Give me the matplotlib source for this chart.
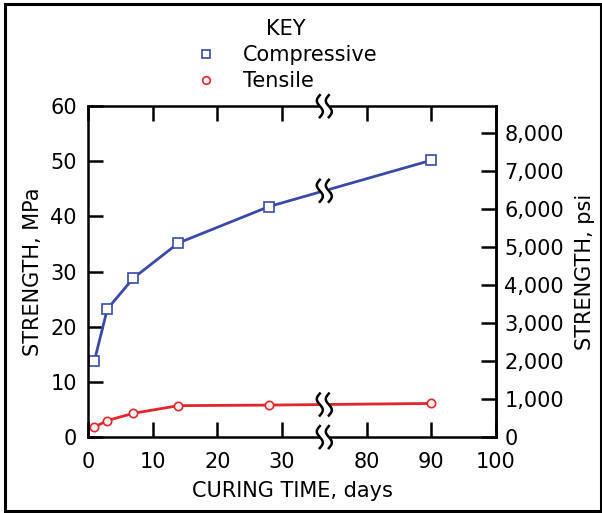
import numpy as np
import matplotlib.pyplot as plt
from matplotlib.lines import Line2D
from matplotlib.patches import Polygon
from matplotlib.transforms import IdentityTransform

plt.rcParams['font.family'] = ['DejaVu Sans']

# Data
days = [1, 3, 7, 14, 28, 90]
compressive = [13.8, 23.2, 28.8, 35.2, 41.8, 50.2]
tensile = [1.8, 3.0, 4.3, 5.7, 5.8, 6.1]
x_ticks = [0, 10, 20, 30, 80, 90, 100]
psi_ticks = [0, 1000, 2000, 3000, 4000, 5000, 6000, 7000, 8000]

BLUE = "#3b4aa8"
RED = "#e3262b"
MPA_TO_PSI = 145.038

# broken x axis: 0..36.5 kept, 36.5..73.5 squeezed, after that shifted
A, B, SHIFT = 36.5, 73.5, 36.9

def fwd(x):
    x = np.asarray(x, dtype=float)
    mid = A + (x - A) * ((B - SHIFT) - A) / (B - A)
    return np.where(x <= A, x, np.where(x >= B, x - SHIFT, mid))

def inv(u):
    u = np.asarray(u, dtype=float)
    mid = A + (u - A) * (B - A) / ((B - SHIFT) - A)
    return np.where(u <= A, u, np.where(u >= B - SHIFT, u + SHIFT, mid))

def break_mark(fig, px, py, h=22, gap=9, amp=3):
    # two wavy strokes with a white gap, in display pixels
    t = np.linspace(-0.5, 0.5, 40)
    ys = py + t * h
    fig.add_artist(Polygon([[px - gap / 2, py - 4], [px + gap / 2, py - 4],
                            [px + gap / 2, py + 4], [px - gap / 2, py + 4]],
                           closed=True, facecolor="white", edgecolor="none",
                           transform=IdentityTransform(), zorder=10))
    for dx in (-gap / 2, gap / 2):
        xs = px + dx - amp * np.sin(2 * np.pi * t)
        fig.add_artist(Line2D(xs, ys, color="black", lw=1.8,
                              transform=IdentityTransform(), zorder=11))

def main():
    fig = plt.figure(figsize=(6.02, 5.13), dpi=100)
    ax = fig.add_axes([0.146, 0.148, 0.678, 0.645])
    ax.set_xscale('function', functions=(fwd, inv))
    ax.set_xlim(0, 100)
    ax.set_ylim(0, 60)

    ax.plot(days, compressive, color=BLUE, lw=2, marker='s', ms=7,
            mfc='white', mec=BLUE, mew=1.2, label='Compressive')
    ax.plot(days, tensile, color=RED, lw=2, marker='o', ms=6,
            mfc='#f2f2f2', mec=RED, mew=1.2, label='Tensile')

    ax.set_xticks(x_ticks)
    ax.set_xticklabels([str(v) for v in x_ticks])
    ax.set_yticks(range(0, 61, 10))
    ax.tick_params(axis='x', direction='in', length=11, width=1.8,
                   labelsize=15, top=True, bottom=True, pad=11)
    ax.tick_params(axis='y', direction='in', length=11, width=1.8,
                   labelsize=15, left=True, right=False, pad=8)
    for s in ax.spines.values():
        s.set_linewidth(1.8)

    sec = ax.secondary_yaxis('right', functions=(lambda m: m * MPA_TO_PSI,
                                                 lambda p: p / MPA_TO_PSI))
    sec.set_yticks(psi_ticks)
    sec.set_yticklabels(["{:,}".format(v) for v in psi_ticks])
    sec.tick_params(direction='in', length=11, width=1.8, labelsize=15, pad=6)
    sec.spines['right'].set_linewidth(1.8)
    sec.set_ylabel("STRENGTH, psi", fontsize=15, labelpad=8)

    ax.set_xlabel("CURING TIME, days", fontsize=15, labelpad=6)
    ax.set_ylabel("STRENGTH, MPa", fontsize=15, labelpad=5)

    fig.legend(handles=[
        Line2D([], [], ls='none', marker='s', ms=6, mfc='white', mec=BLUE, mew=1.2),
        Line2D([], [], ls='none', marker='o', ms=5.5, mfc='white', mec=RED, mew=1.2)],
        labels=['Compressive', 'Tensile'], title='KEY', loc='upper center',
        bbox_to_anchor=(0.474, 0.992), frameon=False, fontsize=15,
        title_fontsize=15, handletextpad=1.15, labelspacing=0.3,
        borderpad=0.2, handlelength=1.2)

    # frame around the whole picture
    fig.add_artist(plt.Rectangle((0.008, 0.004), 0.990, 0.988, fill=False,
                                 lw=2.2, edgecolor='black',
                                 transform=fig.transFigure))

    fig.canvas.draw()
    xb = 55.0
    px, _ = ax.transData.transform((xb, 0))
    _, py_top = ax.transAxes.transform((0, 1))
    _, py_bot = ax.transAxes.transform((0, 0))
    break_mark(fig, px, py_top)
    break_mark(fig, px, py_bot)
    # break marks on the two series
    u = fwd(days)
    for vals in (compressive, tensile):
        yb = np.interp(fwd(xb), u, vals)
        _, py = ax.transData.transform((xb, yb))
        break_mark(fig, px, py)

    fig.savefig("out.png", dpi=100)

if __name__ == "__main__":
    main()
